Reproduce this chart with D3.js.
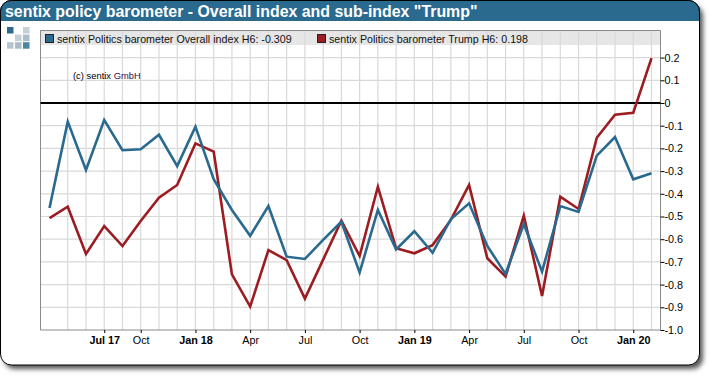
<!DOCTYPE html>
<html>
<head>
<meta charset="utf-8">
<script src="https://d3js.org/d3.v7.min.js"></script>
<style>
  html, body { margin: 0; padding: 0; background: #fff; }
  text { font-family: "Liberation Sans", Arial, sans-serif; }
</style>
</head>
<body>
<div id="chart"></div>
<script>
const titleText = 'sentix policy barometer - Overall index and sub-index "Trump"';
const months = ["Apr 17","May 17","Jun 17","Jul 17","Sep 17","Oct 17","Nov 17","Dec 17",
  "Jan 18","Feb 18","Mar 18","Apr 18","May 18","Jun 18","Jul 18","Aug 18","Sep 18","Oct 18","Nov 18","Dec 18",
  "Jan 19","Feb 19","Mar 19","Apr 19","May 19","Jun 19","Jul 19","Aug 19","Sep 19","Oct 19","Nov 19","Dec 19",
  "Jan 20","Feb 20"];
const overall = [-0.463,-0.082,-0.295,-0.075,-0.208,-0.204,-0.14,-0.278,
  -0.104,-0.336,-0.471,-0.585,-0.454,-0.677,-0.687,-0.603,-0.523,-0.747,-0.471,-0.645,
  -0.565,-0.66,-0.512,-0.442,-0.63,-0.753,-0.533,-0.743,-0.454,-0.48,-0.232,-0.15,
  -0.336,-0.309];
const trump = [-0.507,-0.457,-0.665,-0.542,-0.63,-0.52,-0.417,-0.361,
  -0.178,-0.214,-0.755,-0.897,-0.648,-0.692,-0.862,-0.69,-0.518,-0.674,-0.369,-0.64,
  -0.662,-0.626,-0.515,-0.361,-0.684,-0.765,-0.496,-0.85,-0.413,-0.467,-0.153,-0.052,
  -0.043,0.198];
const tickMonths = ["Jul 17","Oct 17","Jan 18","Apr 18","Jul 18","Oct 18","Jan 19","Apr 19","Jul 19","Oct 19","Jan 20"];
const tickNames = {"Jul 17":"Jul 17","Oct 17":"Oct","Jan 18":"Jan 18","Apr 18":"Apr","Jul 18":"Jul","Oct 18":"Oct",
  "Jan 19":"Jan 19","Apr 19":"Apr","Jul 19":"Jul","Oct 19":"Oct","Jan 20":"Jan 20"};
const yTicks = [0.2,0.1,0,-0.1,-0.2,-0.3,-0.4,-0.5,-0.6,-0.7,-0.8,-0.9,-1.0];
const legendLabels = ["sentix Politics barometer Overall index H6: -0.309","sentix Politics barometer Trump H6: 0.198"];

const blue = "#2a6a8f", red = "#9c1c22";
const width = 710, height = 376;
const plot = {left: 40.5, right: 660.5, top: 30.5, bottom: 330};

const svg = d3.select("#chart").append("svg")
  .attr("width", width)
  .attr("height", height)
  .style("display", "block");

const defs = svg.append("defs");
const blur = defs.append("filter").attr("id", "shadow")
  .attr("x", "-5%").attr("y", "-5%").attr("width", "110%").attr("height", "110%");
blur.append("feGaussianBlur").attr("stdDeviation", 2.5);
defs.append("clipPath").attr("id", "head")
  .append("rect").attr("x", 0).attr("y", 0).attr("width", 700).attr("height", 21);

// frame
svg.append("rect").attr("x", 4).attr("y", 5).attr("width", 699).attr("height", 364)
  .attr("rx", 11).attr("fill", "#555").attr("filter", "url(#shadow)");
svg.append("rect").attr("x", 0.5).attr("y", 0.5).attr("width", 699).attr("height", 364.5)
  .attr("rx", 11).attr("fill", "#fff").attr("stroke", "#000");
svg.append("rect").attr("x", 0.5).attr("y", 0.5).attr("width", 699).attr("height", 60)
  .attr("rx", 11).attr("fill", blue).attr("stroke", "#000").attr("clip-path", "url(#head)");
svg.append("text").attr("x", 5).attr("y", 17)
  .attr("fill", "#fff").attr("font-size", 15.9).attr("font-weight", "bold")
  .text(titleText);

// logo
const logoCells = [[0,0,"#2a6a8f"],[2,0,"#c3d0d8"],[1,1,"#c3d0d8"],[2,1,"#a9bcc8"],[0,2,"#b5c5cf"],[1,2,"#a9bcc8"],[2,2,"#4d83a3"]];
svg.append("g").selectAll("rect").data(logoCells).join("rect")
  .attr("x", d => 7 + d[0] * 8)
  .attr("y", d => 27 + d[1] * 7.6)
  .attr("width", 6.5).attr("height", 6.5)
  .attr("fill", d => d[2]);

const x = d3.scalePoint().domain(months).range([49.5, 651.5]);
const y = d3.scaleLinear().domain([-1, 0.2]).range([plot.bottom, 57.6]);

// legend band
svg.append("rect").attr("x", plot.left).attr("y", plot.top)
  .attr("width", plot.right - plot.left).attr("height", 14.5).attr("fill", "#e6e6e6");

// grid
const grid = svg.append("g").attr("stroke", "#d9d9d9").attr("stroke-width", 1.2);
grid.selectAll(".v").data(months.slice(1)).join("line")
  .attr("class", "v")
  .attr("x1", d => x(d)).attr("x2", d => x(d))
  .attr("y1", plot.top).attr("y2", plot.bottom);
grid.selectAll(".h").data(yTicks.filter(d => d !== 0 && d !== -1)).join("line")
  .attr("class", "h")
  .attr("x1", plot.left).attr("x2", plot.right)
  .attr("y1", d => y(d)).attr("y2", d => y(d));

// plot border
svg.append("path")
  .attr("d", `M${plot.left},${plot.bottom}V${plot.top}H${plot.right}V${plot.bottom}Z`)
  .attr("fill", "none").attr("stroke", "#8a8a8a").attr("stroke-width", 1);

// zero line
svg.append("line")
  .attr("x1", plot.left).attr("x2", plot.right)
  .attr("y1", y(0)).attr("y2", y(0))
  .attr("stroke", "#000").attr("stroke-width", 2);

// axes
const xAxis = d3.axisBottom(x).tickValues(tickMonths).tickSize(3).tickPadding(3)
  .tickFormat(d => tickNames[d]);
const xG = svg.append("g").attr("transform", `translate(0,${plot.bottom})`).call(xAxis);
xG.select(".domain").remove();
xG.selectAll("line").attr("stroke", "#000");
xG.selectAll("text").attr("fill", "#000").attr("font-size", 10.8)
  .attr("font-family", '"Liberation Sans", Arial, sans-serif')
  .attr("font-weight", d => tickNames[d].length > 3 ? "bold" : "normal");

const yAxis = d3.axisRight(y).tickValues(yTicks).tickSize(4).tickPadding(0)
  .tickFormat(d => d === 0 ? "0" : d3.format(".1f")(d).replace("\u2212", "-"));
const yG = svg.append("g").attr("transform", `translate(${plot.right},0)`).call(yAxis);
yG.select(".domain").remove();
yG.selectAll("line").attr("stroke", "#000");
yG.selectAll("text").attr("fill", "#000").attr("font-size", 10.8)
  .attr("font-family", '"Liberation Sans", Arial, sans-serif');

// lines
const line = d3.line().x((d, i) => x(months[i])).y(d => y(d));
svg.append("path").attr("d", line(trump)).attr("fill", "none").attr("stroke", red).attr("stroke-width", 2.6);
svg.append("path").attr("d", line(overall)).attr("fill", "none").attr("stroke", blue).attr("stroke-width", 2.6);

// legend
const legendX = [45.5, 317.5];
const legendColors = [blue, red];
const legend = svg.append("g").selectAll("g").data(legendLabels).join("g")
  .attr("transform", (d, i) => `translate(${legendX[i]},34.5)`);
legend.append("rect").attr("width", 8).attr("height", 8)
  .attr("fill", (d, i) => legendColors[i]).attr("stroke", "#222");
legend.append("text").attr("x", 11.5).attr("y", 8.5)
  .attr("font-size", 10.7).attr("fill", "#111").text(d => d);

// copyright note
const note = svg.append("text").attr("x", 73).attr("y", 79).attr("font-size", 9.4).attr("fill", "#000");
note.append("tspan").text("(c) sentix ");
note.append("tspan").attr("fill", "#3c0a4a").text("GmbH");
</script>
</body>
</html>
